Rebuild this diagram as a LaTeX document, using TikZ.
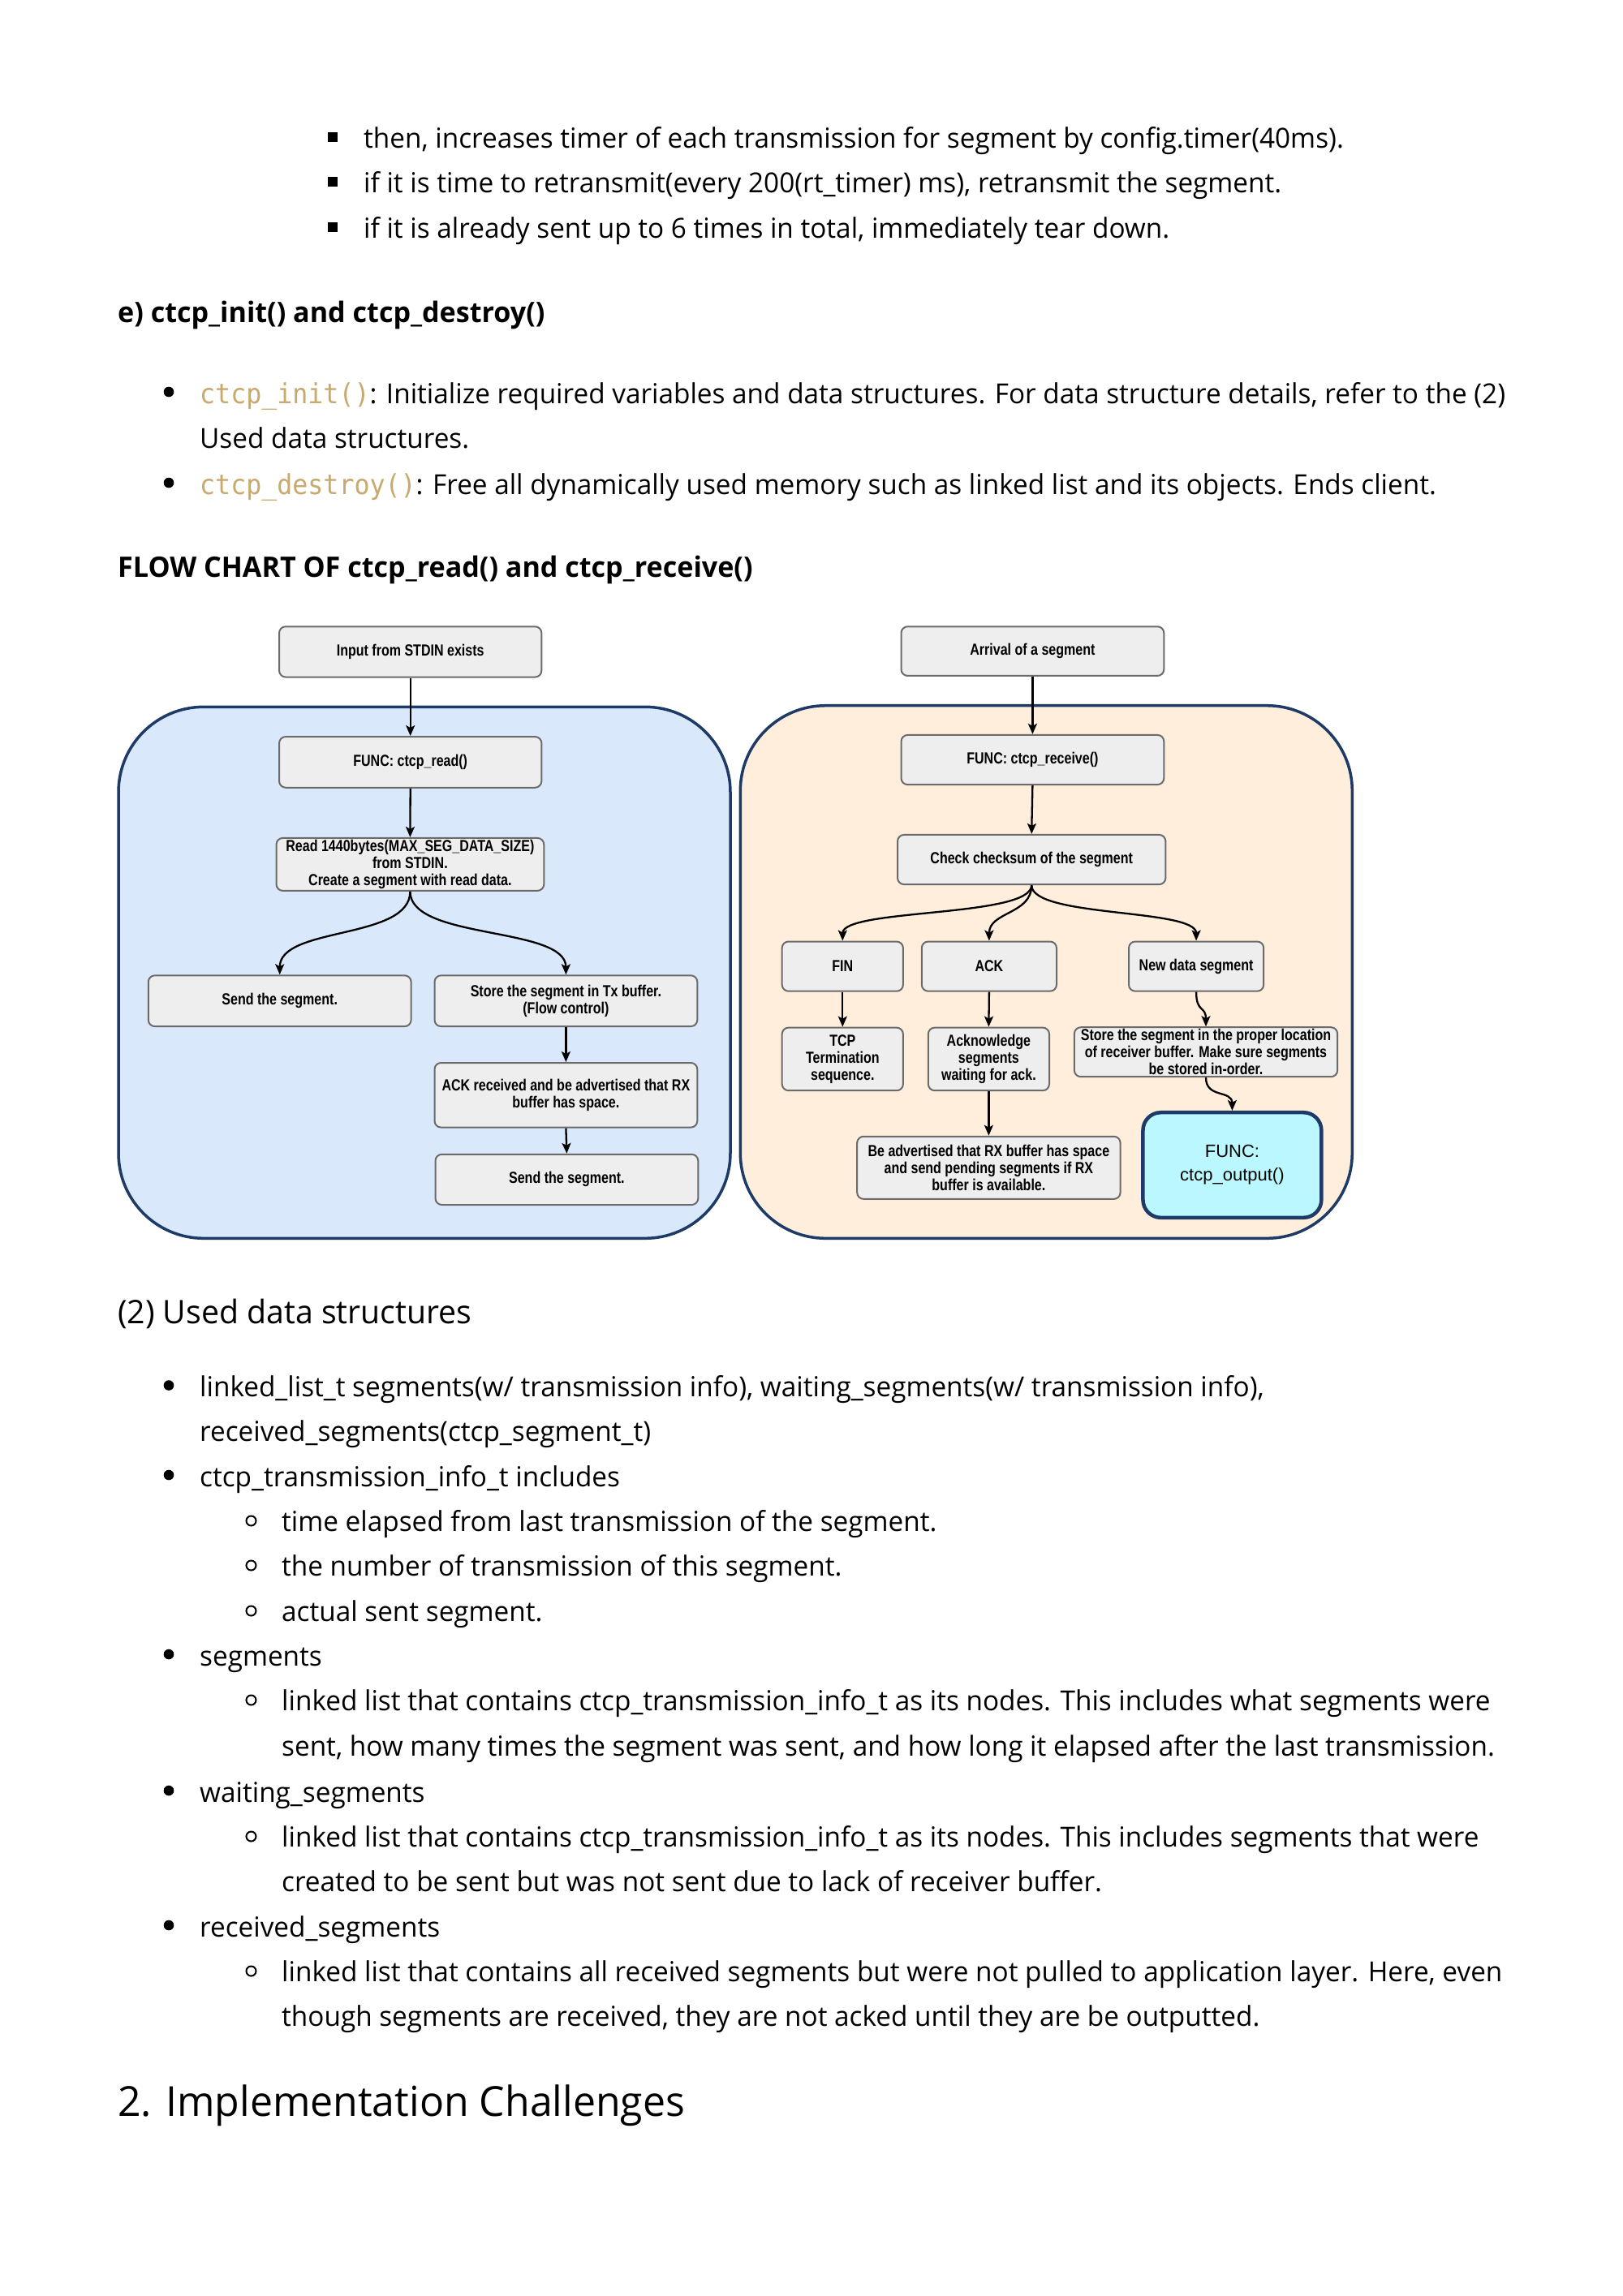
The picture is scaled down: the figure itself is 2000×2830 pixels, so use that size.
\documentclass[tikz,border=0pt]{standalone}
\usepackage{fontspec}
\setmainfont{Open Sans}[FakeStretch=0.98]
\newfontfamily\codefont{DejaVu Sans Mono}[FakeStretch=0.93]
\newfontfamily\boxfont{Liberation Sans}[FakeStretch=0.81]
\newfontfamily\boxregfont{Liberation Sans}
\usetikzlibrary{arrows.meta,calc}
\definecolor{codetan}{HTML}{C8A96E}
\definecolor{leftfill}{HTML}{DAE8FC}
\definecolor{rightfill}{HTML}{FFEEDC}
\definecolor{navy}{HTML}{1E3A66}
\definecolor{boxgray}{HTML}{6B6B6B}
\definecolor{boxfill}{HTML}{EEEEEE}
\definecolor{cyanfill}{HTML}{BBF7FF}
\newcommand{\code}[1]{{\codefont\color{codetan}#1}}
\begin{document}
\begin{tikzpicture}[x=1pt,y=-1pt,
  txt/.style={anchor=base west, inner sep=0pt, font=\fontsize{34}{40}\selectfont},
  hdr/.style={anchor=base west, inner sep=0pt, font=\fontsize{34.8}{40}\selectfont\bfseries},
  container/.style={draw=navy, line width=3.5pt, rounded corners=105pt},
  gbox/.style={draw=boxgray, fill=boxfill, line width=2pt, rounded corners=8pt, inner sep=2pt, align=center, font=\boxfont\bfseries\fontsize{19.8}{21.2}\selectfont},
  funcbox/.style={draw=navy, fill=cyanfill, line width=4.5pt, rounded corners=22pt, align=center, font=\boxregfont\fontsize{22}{29}\selectfont},
  arr/.style={line width=2.3pt, -{Stealth[length=13pt,width=11pt,inset=3pt]}},
  sqbullet/.style={fill=black},
  dotbullet/.style={fill=black},
  ringbullet/.style={draw=black, line width=2pt}
]
\useasboundingbox (0,0) rectangle (2000,2830);
\fill[white] (0,0) rectangle (2000,2830);

% ---------- top text ----------
\fill[sqbullet] (404,163) rectangle (416,175);
\node[txt] (t1) at (448,182) {then, increases timer of each transmission for segment by config.timer(40ms).};
\fill[sqbullet] (404,218) rectangle (416,230);
\node[txt] (t2) at (448,237) {if it is time to retransmit(every 200(rt\_timer) ms), retransmit the segment.};
\fill[sqbullet] (404,274) rectangle (416,286);
\node[txt] (t3) at (448,293) {if it is already sent up to 6 times in total, immediately tear down.};

\node[hdr] (t4) at (145,397) {e) ctcp\_init() and ctcp\_destroy()};

\fill[dotbullet] (208,483) circle (6.3pt);
\node[txt] (t5) at (246,497) {\code{ctcp\_init()}: Initialize required variables and data structures. For data structure details, refer to the (2)};
\node[txt] (t6) at (246,552) {Used data structures.};
\fill[dotbullet] (208,595) circle (6.3pt);
\node[txt] (t7) at (246,609) {\code{ctcp\_destroy()}: Free all dynamically used memory such as linked list and its objects. Ends client.};

\node[hdr] (t8) at (145,711) {FLOW CHART OF ctcp\_read() and ctcp\_receive()};

% ---------- flow chart: containers ----------
\node[container, fill=leftfill, minimum width=754, minimum height=655] (lc) at (523,1198.8) {};
\node[container, fill=rightfill, minimum width=754, minimum height=656.6] (rc) at (1289.3,1198) {};

% ---------- left chart ----------
\node[gbox, minimum width=323.3, minimum height=62.3] (in) at (505.7,803.4) {Input from STDIN exists};
\node[gbox, minimum width=323.3, minimum height=62.7] (fr) at (505.7,939.4) {FUNC: ctcp\_read()};
\node[gbox, minimum width=329.8, minimum height=62.7] (rd) at (505.4,1065.4) {Read 1440bytes(MAX\_SEG\_DATA\_SIZE)\\from STDIN.\\Create a segment with read data.};
\node[gbox, minimum width=323.8, minimum height=62.8] (s1) at (344.7,1233.7) {Send the segment.};
\node[gbox, minimum width=323.8, minimum height=62.8] (st) at (697.4,1233.7) {Store the segment in Tx buffer.\\(Flow control)};
\node[gbox, minimum width=323.8, minimum height=79.6] (ak) at (697.4,1349.8) {ACK received and be advertised that RX\\buffer has space.};
\node[gbox, minimum width=323.8, minimum height=62.2] (s2) at (698.4,1453.9) {Send the segment.};

\draw[arr] (in.south) -- (fr.north);
\draw[arr] (fr.south) -- (rd.north);
\draw[arr] (rd.south) .. controls ($(rd.south)+(0,60)$) and ($(s1.north)+(0,-60)$) .. (s1.north);
\draw[arr] (rd.south) .. controls ($(rd.south)+(0,60)$) and ($(st.north)+(0,-60)$) .. (st.north);
\draw[arr] (st.south) -- (ak.north);
\draw[arr] (ak.south) -- (s2.north);

% ---------- right chart ----------
\node[gbox, minimum width=323.8, minimum height=60.7] (ar) at (1272.4,802.6) {Arrival of a segment};
\node[gbox, minimum width=323.8, minimum height=61.2] (fv) at (1272.4,936.5) {FUNC: ctcp\_receive()};
\node[gbox, minimum width=330.3, minimum height=61.2] (ck) at (1271.2,1059.5) {Check checksum of the segment};
\node[gbox, minimum width=149.2, minimum height=61.2] (fin) at (1038.3,1191.1) {FIN};
\node[gbox, minimum width=166.2, minimum height=61.2] (ack) at (1218.9,1191.1) {ACK};
\node[gbox, minimum width=166.2, minimum height=61.2] (nd) at (1474.1,1191.1) {New data segment};
\node[gbox, minimum width=149.2, minimum height=77.6] (tcp) at (1038.3,1305.4) {TCP\\Termination\\sequence.};
\node[gbox, minimum width=149.2, minimum height=77.6] (akn) at (1218.4,1305.4) {Acknowledge\\segments\\waiting for ack.};
\node[gbox, minimum width=324.3, minimum height=60.2] (sto) at (1486,1296.7) {Store the segment in the proper location\\of receiver buffer. Make sure segments\\be stored in-order.};
\node[gbox, minimum width=324.4, minimum height=77.1] (bea) at (1218.4,1439.3) {Be advertised that RX buffer has space\\and send pending segments if RX\\buffer is available.};
\node[funcbox, minimum width=219.9, minimum height=129.6] (out) at (1518.4,1436) {FUNC:\\ctcp\_output()};

\draw[arr] (ar.south) -- (fv.north);
\draw[arr] (fv.south) -- (ck.north);
\draw[arr] (ck.south) .. controls ($(ck.south)+(0,40)$) and ($(fin.north)+(0,-40)$) .. (fin.north);
\draw[arr] (ck.south) .. controls ($(ck.south)+(0,36)$) and ($(ack.north)+(0,-36)$) .. (ack.north);
\draw[arr] (ck.south) .. controls ($(ck.south)+(0,40)$) and ($(nd.north)+(0,-40)$) .. (nd.north);
\draw[arr] (fin.south) -- (tcp.north);
\draw[arr] (ack.south) -- (akn.north);
\draw[arr] (nd.south) .. controls ($(nd.south)+(0,26)$) and ($(sto.north)+(0,-26)$) .. (sto.north);
\draw[arr] (akn.south) -- (bea.north);
\draw[arr] (sto.south) .. controls ($(sto.south)+(0,26)$) and ($(out.north)+(0,-26)$) .. (out.north);

% ---------- bottom text ----------
\node[anchor=base west, inner sep=0pt, font=\fontsize{40}{48}\selectfont] (t9) at (145,1631) {(2) Used data structures};

\fill[dotbullet] (208,1707.5) circle (6.3pt);
\node[txt] (t10) at (246,1721.5) {linked\_list\_t segments(w/ transmission info), waiting\_segments(w/ transmission info),};
\node[txt] (t11) at (246,1776) {received\_segments(ctcp\_segment\_t)};
\fill[dotbullet] (208,1818) circle (6.3pt);
\node[txt] (t12) at (246,1832) {ctcp\_transmission\_info\_t includes};
\draw[ringbullet] (309.5,1874.5) circle (6pt);
\node[txt] (t13) at (347,1887) {time elapsed from last transmission of the segment.};
\draw[ringbullet] (309.5,1929.5) circle (6pt);
\node[txt] (t14) at (347,1942) {the number of transmission of this segment.};
\draw[ringbullet] (309.5,1985.5) circle (6pt);
\node[txt] (t15) at (347,1998) {actual sent segment.};
\fill[dotbullet] (208,2039) circle (6.3pt);
\node[txt] (t16) at (246,2053) {segments};
\draw[ringbullet] (309.5,2095.5) circle (6pt);
\node[txt] (t17) at (347,2108) {linked list that contains ctcp\_transmission\_info\_t as its nodes. This includes what segments were};
\node[txt] (t18) at (347,2164) {sent, how many times the segment was sent, and how long it elapsed after the last transmission.};
\fill[dotbullet] (208,2207) circle (6.3pt);
\node[txt] (t19) at (246,2221) {waiting\_segments};
\draw[ringbullet] (309.5,2263.5) circle (6pt);
\node[txt] (t20) at (347,2276) {linked list that contains ctcp\_transmission\_info\_t as its nodes. This includes segments that were};
\node[txt] (t21) at (347,2331) {created to be sent but was not sent due to lack of receiver buffer.};
\fill[dotbullet] (208,2373) circle (6.3pt);
\node[txt] (t22) at (246,2387) {received\_segments};
\draw[ringbullet] (309.5,2429.5) circle (6pt);
\node[txt] (t23) at (347,2442) {linked list that contains all received segments but were not pulled to application layer. Here, even};
\node[txt] (t24) at (347,2497) {though segments are received, they are not acked until they are be outputted.};

\node[anchor=base west, inner sep=0pt, font=\fontsize{51}{60}\selectfont] (t25) at (145,2608) {2. Implementation Challenges};
\end{tikzpicture}
\end{document}
